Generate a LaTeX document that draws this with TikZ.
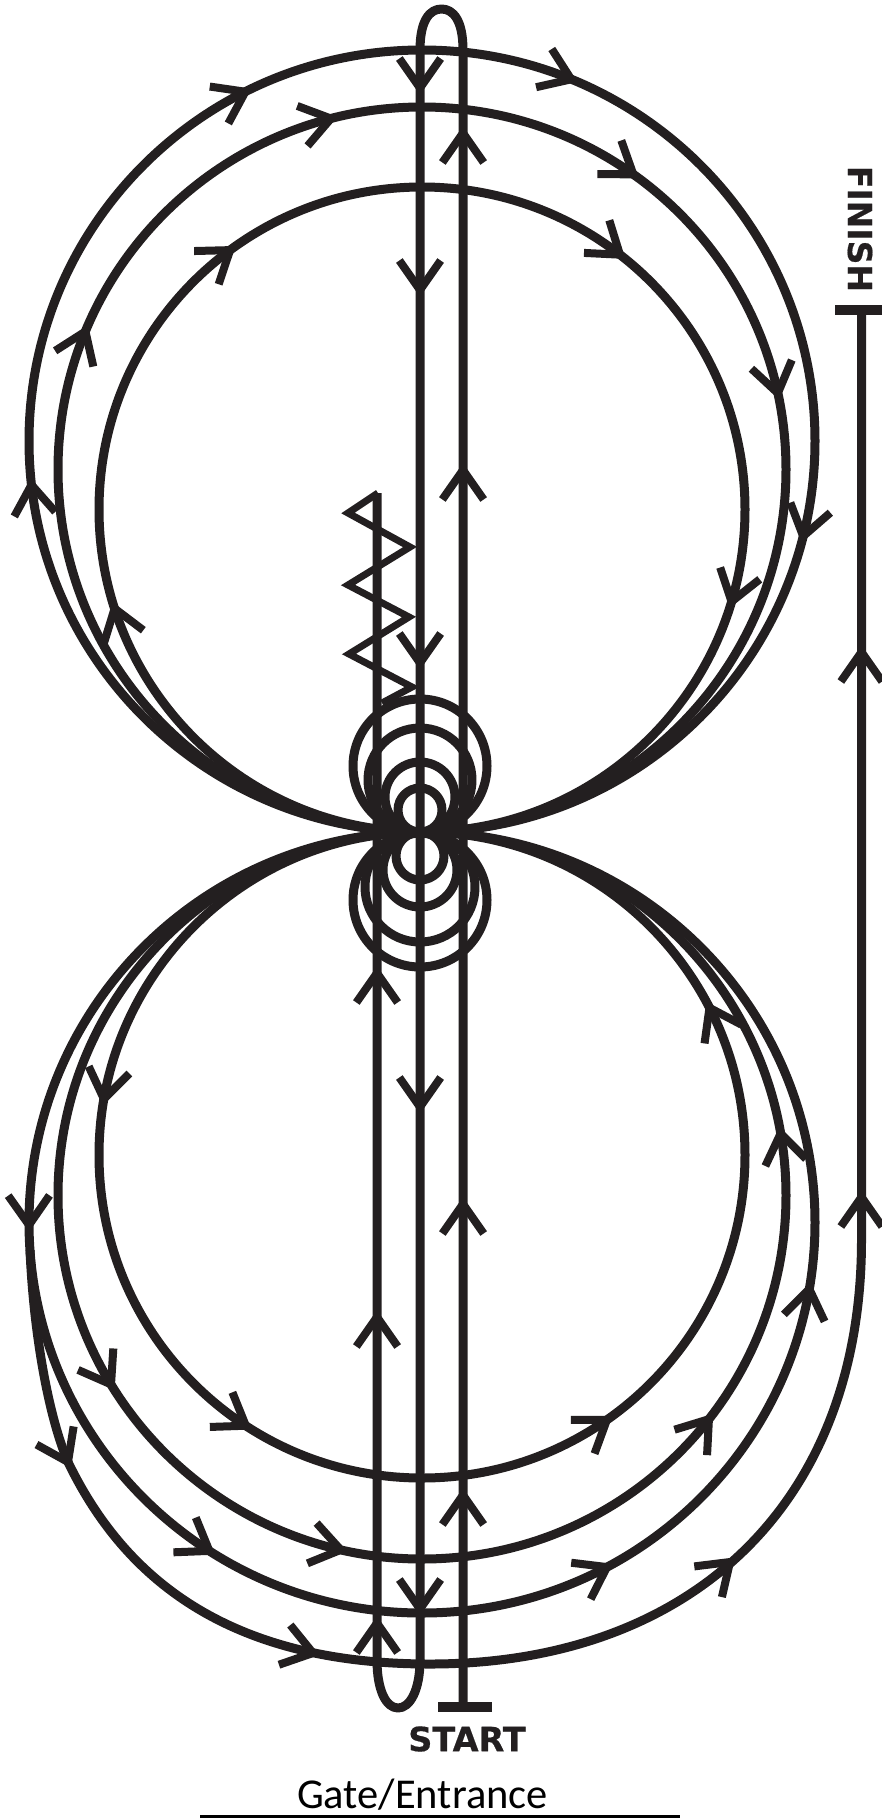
\documentclass[tikz,border=0pt]{standalone}
\usepackage{fontspec}
\newfontfamily\heavyfont[FakeBold=0.5]{DejaVu Sans Bold}
\newfontfamily\gatefont{Carlito}
\definecolor{ink}{HTML}{231F20}
\newcommand{\chev}[3]{%
  \draw[chevline] ({#1+36*cos(#3+145)},{#2+36*sin(#3+145)}) -- (#1,#2) -- ({#1+36*cos(#3-145)},{#2+36*sin(#3-145)});}
% \onring{cy}{rx}{ry}{tipx}{tipy}{turn}: chevron on the ellipse, turn=+90 clockwise on screen, -90 counter
\newcommand{\onring}[6]{%
  \pgfmathsetmacro{\tval}{atan2((#5-#1)/#3,(#4-422)/#2)}%
  \pgfmathsetmacro{\tipx}{422+#2*cos(\tval)}%
  \pgfmathsetmacro{\tipy}{#1+#3*sin(\tval)}%
  \pgfmathsetmacro{\tdir}{\tval+#6}%
  \chev{\tipx}{\tipy}{\tdir}}
\tikzset{
  trackline/.style={draw=ink,line width=9pt,line cap=butt,line join=round},
  chevline/.style={draw=ink,line width=8pt,line cap=butt,line join=miter},
  zigline/.style={draw=ink,line width=7pt,line join=miter,miter limit=10},
  barline/.style={draw=ink,line width=10pt},
}
\begin{document}
\begin{tikzpicture}[x=1pt,y=-1pt]
\useasboundingbox (0,0) rectangle (882,1818);
% upper rings
\draw[trackline] (422,441) ellipse [x radius=393,y radius=391];
\draw[trackline] (422,469.5) ellipse [x radius=364,y radius=362.5];
\draw[trackline] (422,509.5) ellipse [x radius=323,y radius=322.5];
% lower rings
\draw[trackline] (422,1155) ellipse [x radius=323,y radius=323];
\draw[trackline] (422,1195.5) ellipse [x radius=364,y radius=363.5];
\draw[trackline] (422,1222.5) ellipse [x radius=393,y radius=390.5];
% small circles
\draw[trackline] (420,766) circle [radius=67];
\draw[trackline] (420,780) circle [radius=52];
\draw[trackline] (420,797) circle [radius=35];
\draw[trackline] (420,810) circle [radius=22];
\draw[trackline] (420,900) circle [radius=67];
\draw[trackline] (420,887) circle [radius=55];
\draw[trackline] (420,870) circle [radius=37];
\draw[trackline] (420,856) circle [radius=24];
% three verticals with the two turns
\draw[trackline] (463,1707) -- (463,50) .. controls (463,20) and (453,9) .. (441.5,9)
  .. controls (430,9) and (420,20) .. (420,50) -- (420,1660)
  .. controls (420,1690) and (410,1708) .. (398,1708)
  .. controls (386,1708) and (377,1690) .. (377,1660) -- (377,493);
% zigzag
\draw[zigline] (378,493) -- (348,513) -- (410,547) -- (348,585) -- (409,617) -- (349,654) -- (412,687) -- (382,703);
\draw[barline] (438,1707) -- (492,1707);
% last loop to the finish
\draw[trackline] (30,1250) .. controls (34,1340) and (50,1420) .. (68,1462)
  .. controls (125,1580) and (230,1664) .. (430,1664)
  .. controls (690,1664) and (861.5,1505) .. (861.5,1240) -- (861.5,310);
\draw[barline] (835,310) -- (882,310);
% chevrons on upper rings
\foreach \tx/\ty in {245/91,573/75,806/537,30/485}{\onring{441}{393}{391}{\tx}{\ty}{90}}
\foreach \tx/\ty in {330/115,635/172,774/394,82/330}{\onring{469.5}{364}{362.5}{\tx}{\ty}{90}}
\foreach \tx/\ty in {230/250,622/252,736/603,113/609}{\onring{509.5}{323}{322.5}{\tx}{\ty}{90}}
% chevrons on lower rings
\foreach \tx/\ty in {709/1008,104/1099,245/1427,607/1420}{\onring{1155}{323}{323}{\tx}{\ty}{-90}}
\foreach \tx/\ty in {783/1133,110/1385,340/1553,710/1420}{\onring{1195.5}{364}{363.5}{\tx}{\ty}{-90}}
\foreach \tx/\ty in {30/1225,208/1553,608/1569,810/1289}{\onring{1222.5}{393}{390.5}{\tx}{\ty}{-90}}
% chevrons on the last loop
\chev{68}{1462}{64}
\chev{313}{1653}{16}
\chev{730}{1562}{-42}
% chevrons on verticals
\foreach \ty in {88,290,663,1107,1609}{\chev{420}{\ty}{90}}
\foreach \ty in {133,470,1204,1495}{\chev{463}{\ty}{-90}}
\foreach \ty in {973,1317,1623}{\chev{377}{\ty}{-90}}
\foreach \ty in {652,1197}{\chev{861.5}{\ty}{-90}}
% labels
\node[text=ink,inner sep=0pt] (startlabel) at (467,1739) {\heavyfont\fontsize{33.5}{33.5}\selectfont START};
\node[text=ink,inner sep=0pt,rotate=-90] (finishlabel) at (860,229) {\heavyfont\fontsize{33}{33}\selectfont FINISH};
\node[text=black,inner sep=0pt,anchor=base] (gatelabel) at (422.5,1808) {\gatefont\fontsize{42.5}{42.5}\selectfont Gate/Entrance};
\draw[black,line width=3pt] (200,1816.5) -- (680,1816.5);
\end{tikzpicture}
\end{document}
